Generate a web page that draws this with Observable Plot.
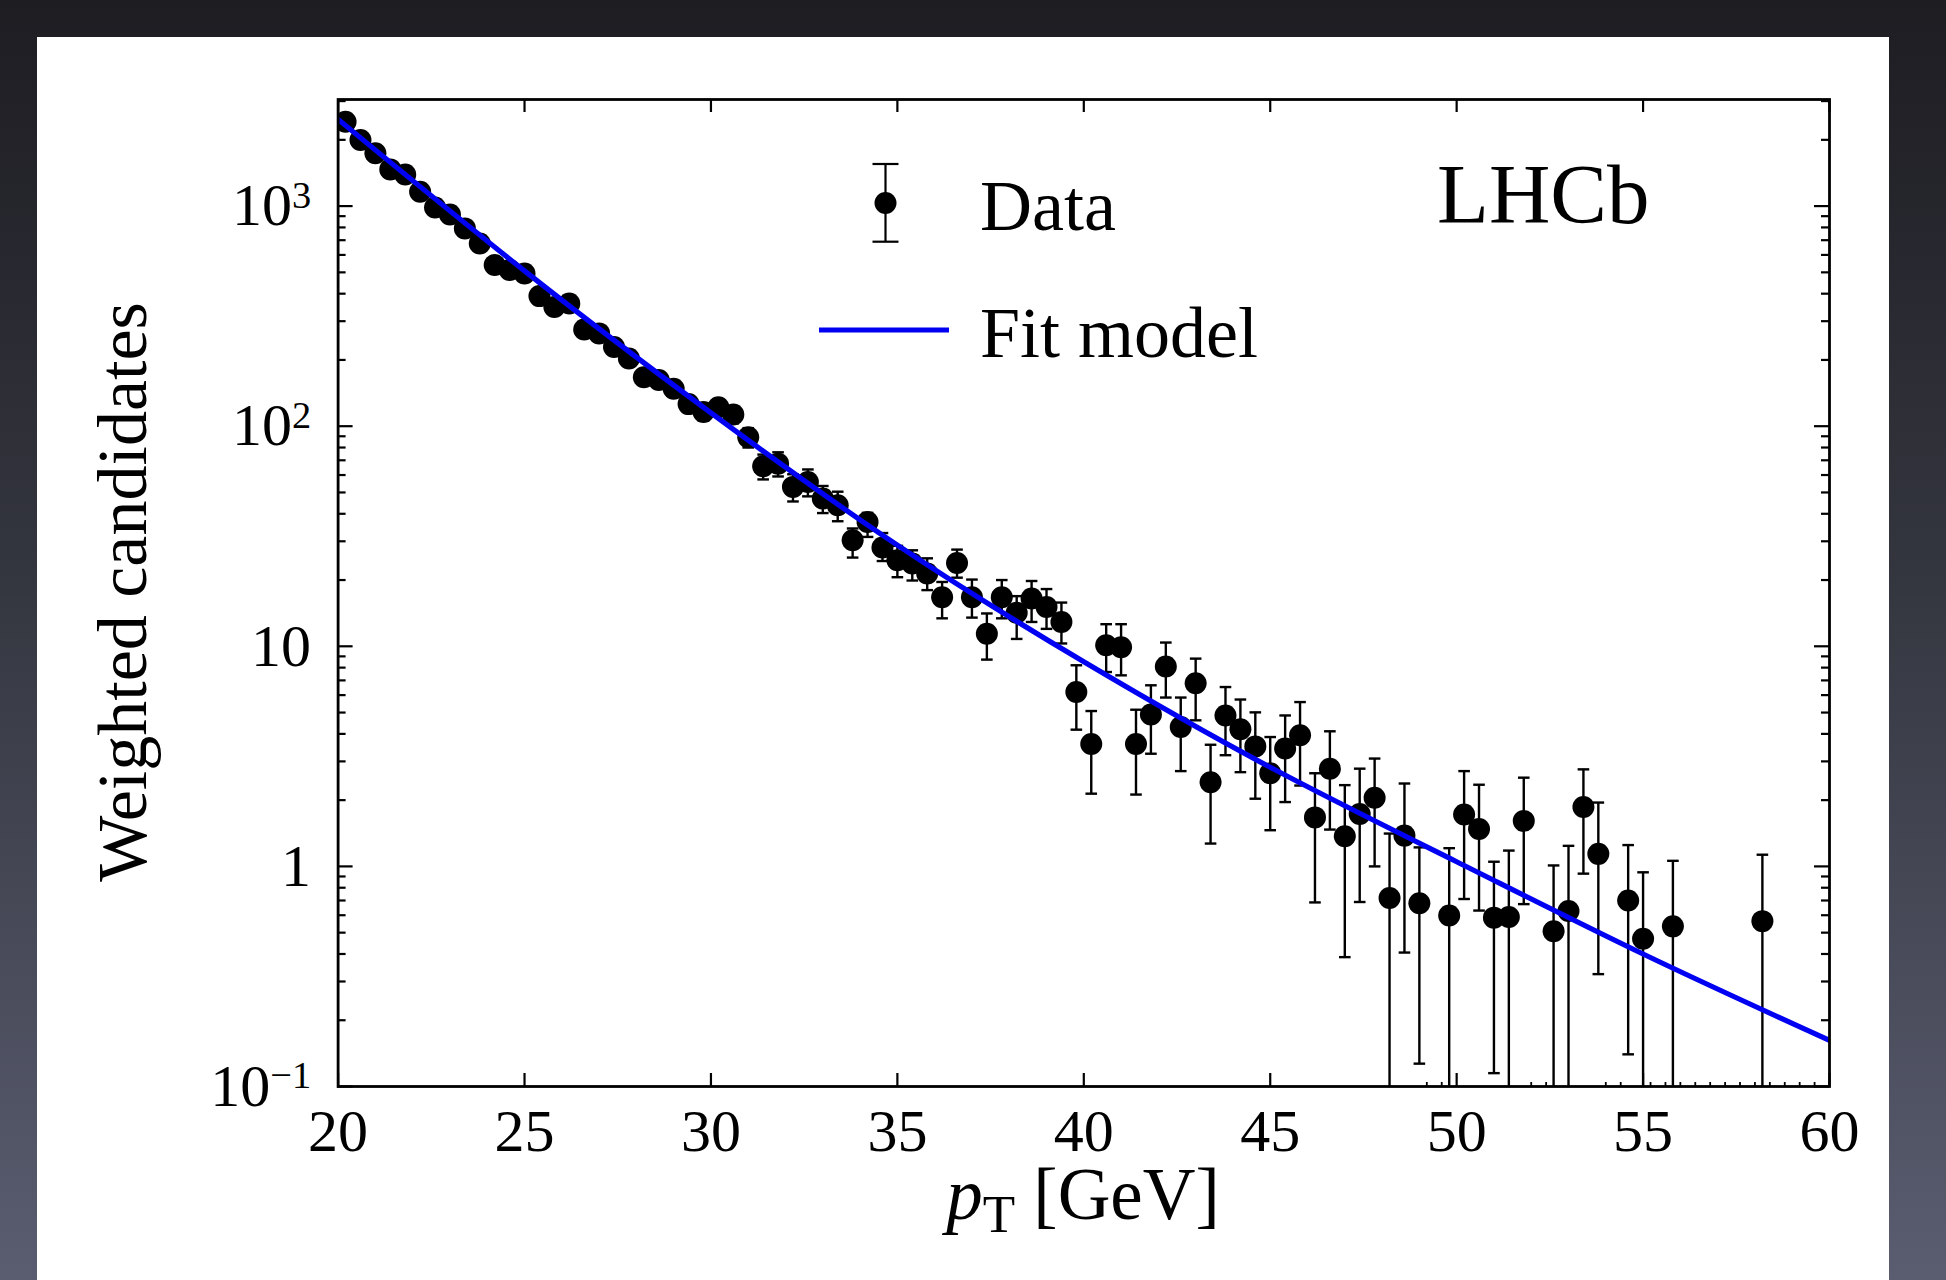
<!DOCTYPE html>
<html>
<head>
<meta charset="utf-8">
<script src="https://cdn.jsdelivr.net/npm/d3@7"></script>
<script src="https://cdn.jsdelivr.net/npm/@observablehq/plot@0.6"></script>
<style>
  html, body { margin: 0; padding: 0; }
  body {
    width: 1946px; height: 1280px; overflow: hidden; position: relative;
    background: linear-gradient(to bottom, #1d1d22 0%, #34363f 45%, #5a5d70 100%);
  }
  #panel { position: absolute; left: 37px; top: 37px; width: 1852px; height: 1243px; background: #fff; }
</style>
</head>
<body>
<div id="panel"></div>
<script>
// ---- Data: bin centres (GeV), weighted candidates, lower / upper error-bar ends ----
const pt = [20.2,20.6,21.0,21.4,21.8,22.2,22.6,23.0,23.4,23.8,24.2,24.6,25.0,25.4,25.8,26.2,26.6,27.0,27.4,27.8,
  28.2,28.6,29.0,29.4,29.8,30.2,30.6,31.0,31.4,31.8,32.2,32.6,33.0,33.4,33.8,34.2,34.6,35.0,35.4,35.8,
  36.2,36.6,37.0,37.4,37.8,38.2,38.6,39.0,39.4,39.8,40.2,40.6,41.0,41.4,41.8,42.2,42.6,43.0,43.4,43.8,
  44.2,44.6,45.0,45.4,45.8,46.2,46.6,47.0,47.4,47.8,48.2,48.6,49.0,
  49.8,50.2,50.6,51.0,51.4,51.8,52.6,53.0,53.4,53.8,54.6,55.0,55.8,58.2];
const counts = [2416,1995,1738,1468,1393,1161,986,916,792,676,540,512,494,390,348,361,275,264,229,203,
  167,162,148,126,116,122,113,89,65.8,67.6,53,55.8,46.9,43.7,30.3,36.7,28.1,24.6,23.8,21.4,
  16.7,23.9,16.7,11.4,16.7,14.2,16.5,15.1,12.9,6.2,3.6,10.1,9.9,3.6,4.9,8.1,4.3,6.8,2.41,4.85,
  4.2,3.51,2.65,3.43,3.94,1.67,2.78,1.37,1.73,2.05,0.718,1.38,0.68,
  0.598,1.72,1.48,0.585,0.589,1.61,0.507,0.627,1.86,1.14,0.70,0.469,0.534,0.564];
const lowerBound = [2361,1945,1692,1426,1352,1123,951,883,761,647,514,487,469,368,327,340,258,247,214,189,
  155,150,137,116,106,112,103,80,57.3,59.1,45.5,48,40.3,37,25.3,31.4,24.4,20.6,19.9,18.0,
  13.4,20.5,13.5,8.7,13.4,10.8,12.9,12.0,10.3,4.18,2.14,7.64,7.38,2.12,3.25,5.85,2.71,4.61,1.27,3.20,
  2.68,2.03,1.46,1.96,2.33,0.686,1.47,0.387,0.689,1.0,0.01,0.406,0.127,
  0.01,0.711,0.63,0.115,0.01,0.674,0.01,0.01,0.927,0.324,0.140,0.01,0.01,0.01];
const upperBound = [2471,2045,1784,1510,1434,1199,1021,949,823,705,566,537,519,412,369,382,292,281,246,217,
  179,174,159,136,126,132,123,98,74.3,76.1,60.5,63.6,53.5,50.4,34.3,40.4,32.7,28.6,27.3,25.1,
  19.6,27.5,20.1,14.1,20.0,16.9,19.8,18.2,15.8,8.2,5.08,12.6,12.6,5.15,6.65,10.4,5.85,8.79,3.57,6.53,
  5.73,5.01,3.87,4.85,5.58,2.65,4.11,2.34,2.78,3.09,1.41,2.38,1.22,
  1.21,2.71,2.35,1.05,1.18,2.53,1.01,1.24,2.76,1.95,1.25,0.94,1.06,1.13];
// edges of empty bins (drawn as tiny stubs on the axis)
const emptyBinEdges = [49.2,49.6,52.0,52.4,54.0,54.4,55.2,55.6,56.0,56.4,56.8,57.2,57.6,58.0,58.4,58.8,59.2,59.6];

// ---- Fit model ----
const fitPt  = [20, 25, 30, 35, 40, 45, 50, 55, 60];
const fitVal = [2477, 508, 115, 28.8, 8.5, 2.82, 1.05, 0.40, 0.162];

// ---- Axes ----
const xTicks = [20, 25, 30, 35, 40, 45, 50, 55, 60];
const yMajor = [0.1, 1, 10, 100, 1000];
const yTickLabels = ["10^\u22121", "1", "10", "10^2", "10^3"];
const yMinor = [0.2,0.3,0.4,0.5,0.6,0.7,0.8,0.9,2,3,4,5,6,7,8,9,20,30,40,50,60,70,80,90,
  200,300,400,500,600,700,800,900,2000,3000];
const yDomain = [0.1, 3050];
const xDomain = [20, 60];

const rows = pt.map((x, i) => ({x, v: counts[i], lo: lowerBound[i], hi: upperBound[i]}));
const fitRows = fitPt.map((x, i) => ({x, y: fitVal[i]}));

const W = 1852, H = 1243;
const mL = 300.6, mT = 62, mR = 60, mB = 194;
const fw = W - mL - mR, fh = H - mT - mB;
const FONT = "'Liberation Serif', 'Times New Roman', serif";
const BLUE = "#0000f2";

const capSymbol = { draw(ctx, size) { const w = Math.sqrt(size / Math.PI); ctx.moveTo(-w, 0); ctx.lineTo(w, 0); } };

const chart = Plot.plot({
  width: W, height: H,
  marginLeft: mL, marginTop: mT, marginRight: mR, marginBottom: mB,
  style: { fontFamily: FONT, fontSize: "60px", background: "white", color: "black", overflow: "visible" },
  x: { domain: xDomain, label: null },
  y: { type: "log", domain: yDomain, label: null },
  marks: [
    // inward ticks on all four sides
    Plot.ruleY(yMajor, { stroke: "black", strokeWidth: 2.2, insetRight: fw - 15 }),
    Plot.ruleY(yMajor, { stroke: "black", strokeWidth: 2.2, insetLeft: fw - 15 }),
    Plot.ruleY(yMinor, { stroke: "black", strokeWidth: 2.2, insetRight: fw - 8 }),
    Plot.ruleY(yMinor, { stroke: "black", strokeWidth: 2.2, insetLeft: fw - 8 }),
    Plot.ruleX(xTicks, { stroke: "black", strokeWidth: 2.2, insetTop: fh - 13 }),
    Plot.ruleX(xTicks, { stroke: "black", strokeWidth: 2.2, insetBottom: fh - 13 }),
    Plot.ruleX(emptyBinEdges, { stroke: "black", strokeWidth: 1.8, insetTop: fh - 4 }),
    // error bars
    Plot.ruleX(rows, { x: "x", y1: "lo", y2: "hi", stroke: "black", strokeWidth: 2.4, clip: true }),
    Plot.dot(rows, { x: "x", y: "hi", symbol: capSymbol, r: 5.8, stroke: "black", strokeWidth: 2.4, fill: "none", clip: true }),
    Plot.dot(rows, { x: "x", y: "lo", symbol: capSymbol, r: 5.8, stroke: "black", strokeWidth: 2.4, fill: "none", clip: true }),
    // markers
    Plot.dot(rows, { x: "x", y: "v", r: 11, fill: "black", stroke: "none", clip: true }),
    // fit model
    Plot.line(fitRows, { x: "x", y: "y", stroke: BLUE, strokeWidth: 5.2, curve: "natural", clip: true }),
    // tick labels
    Plot.axisX(xTicks, { tickSize: 0, tickPadding: 22, fontSize: 60 }),
    Plot.axisY(yMajor, { tickSize: 0, tickPadding: 27, fontSize: 60, tickFormat: (d) => yTickLabels[yMajor.indexOf(d)] }),
    Plot.frame({ stroke: "black", strokeWidth: 2.8 })
  ]
});

document.getElementById("panel").appendChild(chart);
const svg = d3.select(chart);

// superscripts in y tick labels
svg.selectAll('g[aria-label="y-axis tick label"] text').each(function () {
  const t = this.textContent;
  if (t.includes("^")) {
    const [b, e] = t.split("^");
    const s = d3.select(this);
    s.text(null);
    s.append("tspan").text(b);
    s.append("tspan").attr("dy", "-0.45em").attr("font-size", "0.64em").text(e);
  }
});

// axis titles
const xl = svg.append("text")
  .attr("x", 1046).attr("y", 1182)
  .attr("text-anchor", "middle").attr("font-family", FONT).attr("font-size", 73).attr("fill", "black");
xl.append("tspan").attr("font-style", "italic").text("p");
xl.append("tspan").attr("dy", 13).attr("font-size", 53).text("T");
xl.append("tspan").attr("dy", -13).text("\u00a0[GeV]");

svg.append("text")
  .attr("transform", "translate(109,555) rotate(-90)")
  .attr("text-anchor", "middle").attr("font-family", FONT).attr("font-size", 70).attr("fill", "black")
  .text("Weighted candidates");

// legend
const lx = 848.5;
const lg = svg.append("g").attr("stroke", "black");
lg.append("line").attr("x1", lx).attr("x2", lx).attr("y1", 127).attr("y2", 204.7).attr("stroke-width", 2.2);
lg.append("line").attr("x1", lx - 13).attr("x2", lx + 13).attr("y1", 127).attr("y2", 127).attr("stroke-width", 2.2);
lg.append("line").attr("x1", lx - 13).attr("x2", lx + 13).attr("y1", 204.7).attr("y2", 204.7).attr("stroke-width", 2.2);
lg.append("circle").attr("cx", lx).attr("cy", 166).attr("r", 11).attr("fill", "black").attr("stroke", "none");
lg.append("line").attr("x1", 782).attr("x2", 912).attr("y1", 293).attr("y2", 293).attr("stroke", BLUE).attr("stroke-width", 5.2);
const legendText = (x, y, size, s) => svg.append("text").attr("x", x).attr("y", y)
  .attr("text-anchor", "start").attr("font-family", FONT).attr("font-size", size).attr("fill", "black").text(s);
legendText(943, 193, 72, "Data");
legendText(943, 319.7, 72, "Fit model");
legendText(1400, 186, 85, "LHCb");
</script>
</body>
</html>
